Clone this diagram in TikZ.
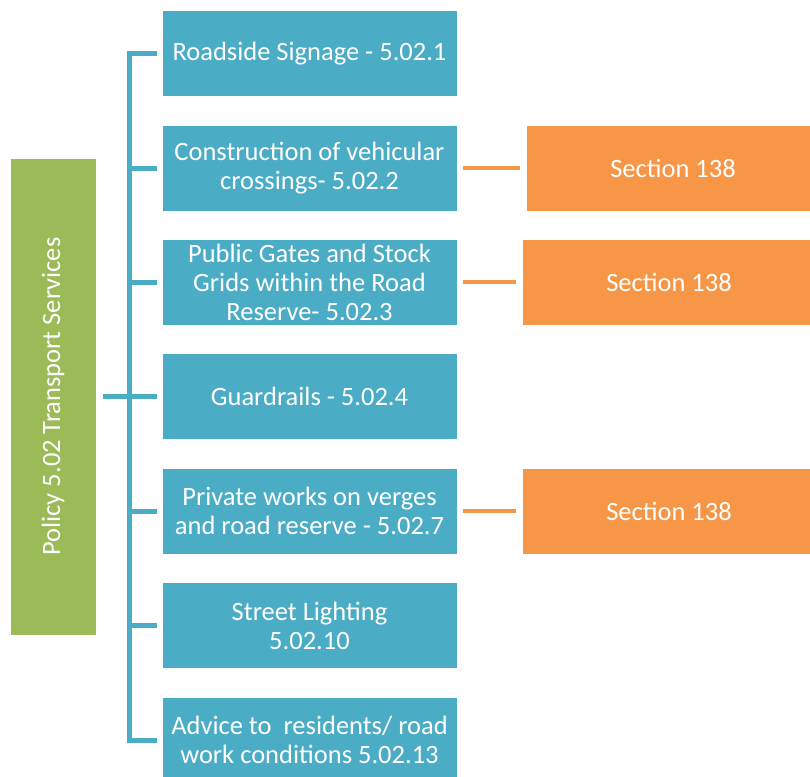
\documentclass[tikz,border=0pt]{standalone}
\usepackage{fontspec}
\setmainfont{Carlito}
\definecolor{cblue}{HTML}{4BACC6}
\definecolor{corange}{HTML}{F79646}
\definecolor{cgreen}{HTML}{9BBB59}
\begin{document}
\begin{tikzpicture}[x=1pt,y=-1pt,
  boxbase/.style={rectangle,draw=white,line width=1pt,text=white,align=center,inner sep=0pt,
    font=\fontsize{26.5}{29}\selectfont},
  bluebox/.style={boxbase,fill=cblue,minimum width=295pt,minimum height=86pt},
  orangebox/.style={boxbase,fill=corange,minimum width=294pt,minimum height=86pt},
  greenbox/.style={boxbase,fill=cgreen,minimum width=86pt,minimum height=477pt},
  blueline/.style={draw=cblue,line width=5pt},
  orangeline/.style={draw=corange,line width=4pt,shorten <=5pt,shorten >=6pt}]
\useasboundingbox (0,0) rectangle (810,776);
\fill[white] (0,0) rectangle (810,776);
\node[greenbox] (g) at (53,396.5) {};
\node[text=white,rotate=90,font=\fontsize{26.5}{29}\selectfont] (gt) at (g.center) {Policy 5.02 Transport Services};
\node[bluebox] (b1) at (309.5,53.5) {Roadside Signage - 5.02.1};
\node[bluebox] (b2) at (309.5,168) {Construction of vehicular\\crossings- 5.02.2};
\node[bluebox] (b3) at (309.5,282) {Public Gates and Stock\\Grids within the Road\\Reserve- 5.02.3};
\node[bluebox] (b4) at (309.5,396.5) {Guardrails - 5.02.4};
\node[bluebox] (b5) at (309.5,511) {Private works on verges\\and road reserve - 5.02.7};
\node[bluebox] (b6) at (309.5,625.5) {Street Lighting\\5.02.10};
\node[bluebox] (b7) at (309.5,740) {Advice to\ \ residents/ road\\work conditions 5.02.13};
\node[orangebox] (o1) at (673,168.5) {Section 138};
\node[orangebox] (o2) at (669,282) {Section 138};
\node[orangebox] (o3) at (669,511) {Section 138};
\coordinate (bx) at (129,396.5);
\draw[blueline,shorten <=6pt] (g.east) -- (g.east -| bx);
\draw[blueline,shorten <=5pt,shorten >=5pt] (b1.west) -- (bx |- b1.west) -- (bx |- b7.west) -- (b7.west);
\foreach \b in {b2,b3,b4,b5,b6}{
  \draw[blueline,shorten >=5pt] (bx |- \b.west) -- (\b.west);
}
\draw[orangeline] (b2.east) -- (o1.west |- b2.east);
\draw[orangeline] (b3.east) -- (o2.west);
\draw[orangeline] (b5.east) -- (o3.west);
\end{tikzpicture}
\end{document}
